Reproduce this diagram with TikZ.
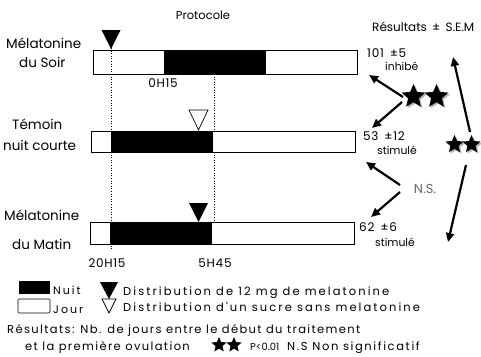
\documentclass[tikz,border=0pt]{standalone}
\usepackage{fontspec}
\setmainfont{Poppins}
\newfontfamily\legfontA[LetterSpace=18]{Poppins}
\newfontfamily\legfontB[LetterSpace=12]{Poppins}
\newfontfamily\legfontC[LetterSpace=18]{Poppins}
\newfontfamily\legfontF[LetterSpace=14]{Poppins}
\newfontfamily\valfont[LetterSpace=6]{Poppins}
\usetikzlibrary{arrows.meta,shapes.geometric}
\begin{document}
\begin{tikzpicture}[x=1pt,y=-1pt,
  lab/.style={font=\fontsize{13.5}{14}\selectfont, anchor=base west, inner sep=0},
  small/.style={font=\valfont\fontsize{12}{12}\selectfont, anchor=base west, inner sep=0},
  tiny/.style={font=\fontsize{10.8}{11}\selectfont, anchor=base west, inner sep=0},
  legA/.style={font=\legfontA\fontsize{11.5}{12}\selectfont, anchor=base west, inner sep=0},
  legB/.style={font=\legfontB\fontsize{11.5}{12}\selectfont, anchor=base west, inner sep=0},
  legC/.style={font=\legfontC\fontsize{11}{12}\selectfont, anchor=base west, inner sep=0},
  legE/.style={font=\fontsize{10}{10}\selectfont, anchor=base west, inner sep=0},
  legF/.style={font=\legfontF\fontsize{11.5}{12}\selectfont, anchor=base west, inner sep=0},
  barbox/.style={draw=black, line width=0.6pt, fill=white},
  nightbox/.style={fill=black},
  dots/.style={dotted, line width=0.6pt},
  thickarrow/.style={line width=2.2pt, -{Triangle[length=9pt,width=8pt]}},
  starS/.style={star, star points=5, star point ratio=2.2, fill=black, minimum size=25pt, inner sep=0},
  starM/.style={starS, minimum size=19pt},
  starL/.style={starS, minimum size=16pt},
  shadowstar/.style={fill=gray!60}
]
\useasboundingbox (0,0) rectangle (481,356);

% titles
\node[font=\fontsize{11.5}{12}\selectfont, inner sep=0] (prot) at (203,15) {Protocole};
\node[small, anchor=west, font=\fontsize{12}{12}\selectfont] (res) at (372,27) {Résultats \,±\, S.E.M};

% dotted guide lines
\coordinate (d1t) at (111,48);
\coordinate (d1b) at (111,249);
\coordinate (d2t) at (214,74);
\coordinate (d2b) at (214,222);
\draw[dots] (d1t) -- (d1b);
\draw[dots] (d2t) -- (d2b);

% bar 1: Melatonine du soir
\fill[nightbox] (164,50) rectangle (266,74);
\draw[line width=0.6pt] (93,50) rectangle (357,74);
\fill (101.5,30) -- (120.5,30) -- (111,49) -- cycle;

% bar 2: Temoin nuit courte
\draw[barbox] (91,131) rectangle (355,152);
\fill[nightbox] (111,131) rectangle (213,152);
\draw[line width=0.7pt] (189,110) -- (208,110) -- (198.5,130) -- cycle;

% bar 3: Melatonine du matin
\draw[barbox] (90,222) rectangle (354,244);
\fill[nightbox] (110,222) rectangle (212,244);
\fill (189,203) -- (208,203) -- (198.5,222) -- cycle;

% left labels
\node[lab] (l1a) at (6,48) {Mélatonine};
\node[lab] (l1b) at (19,67) {du Soir};
\node[lab] (l2a) at (12,129) {Témoin};
\node[lab] (l2b) at (3,150) {nuit courte};
\node[lab] (l3a) at (4,220) {Mélatonine};
\node[lab] (l3b) at (12,249) {du Matin};

% times
\node[small, anchor=center] (t0) at (163,83) {0H15};
\node[small, anchor=center] (t1) at (107,263) {20H15};
\node[small, anchor=center] (t2) at (215,263) {5H45};

% results
\node[small] (r1) at (367,57) {101 \,±5};
\node[tiny] (r1s) at (385,70) {inhibé};
\node[small] (r2) at (363,140) {53 \,±12};
\node[tiny] (r2s) at (377,154) {stimulé};
\node[small] (r3) at (359,231) {62 \,±6};
\node[tiny] (r3s) at (375,246) {stimulé};

% stars
\node[starS, shadowstar] at (415,98) {};
\node[starS] (sa1) at (413.5,96.5) {};
\node[starS, shadowstar] at (438,98) {};
\node[starS] (sa2) at (436.5,96.5) {};
\node[starM, shadowstar] at (456,146) {};
\node[starM] (sb1) at (454.5,144.5) {};
\node[starM, shadowstar] at (473,146) {};
\node[starM] (sb2) at (471.5,144.5) {};

\node[font=\fontsize{13}{13}\selectfont, text=black!60, inner sep=0] (ns) at (425,189) {N.S.};

% arrows
\coordinate (a1t) at (403,97);  \coordinate (a1h) at (369,75);
\coordinate (a2t) at (402,102); \coordinate (a2h) at (372,128);
\coordinate (a3t) at (400,185); \coordinate (a3h) at (366,162);
\coordinate (a4t) at (400,192); \coordinate (a4h) at (371,217);
\coordinate (a5t) at (470,132); \coordinate (a5h) at (453,57);
\coordinate (a6t) at (466,165); \coordinate (a6h) at (448,242);
\draw[thickarrow] (a1t) -- (a1h);
\draw[thickarrow] (a2t) -- (a2h);
\draw[thickarrow] (a3t) -- (a3h);
\draw[thickarrow] (a4t) -- (a4h);
\draw[thickarrow] (a5t) -- (a5h);
\draw[thickarrow] (a6t) -- (a6h);

% legend
\fill (19,281) rectangle (50,294);
\draw[line width=0.6pt, rounded corners=1pt] (18,299) rectangle (50,313);
\node[legC] (nuit) at (53,294) {Nuit};
\node[legC] (jour) at (53,313) {Jour};
\fill (100,282) -- (118,282) -- (109,299) -- cycle;
\draw[line width=0.7pt] (102,299) -- (116,299) -- (109,313) -- cycle;
\node[legA] (dist1) at (123,295) {Distribution de 12 mg de melatonine};
\node[legA] (dist2) at (123,311) {Distribution d'un sucre sans melatonine};
\node[legB] (resl) at (7,333) {Résultats: Nb. de jours entre le début du traitement};
\node[legB] (ovul) at (25,350) {et la première ovulation};
\node[starL] (lsa) at (219,345) {};
\node[starL] (lsb) at (234,345) {};
\node[legE] (pval) at (250,350) {P<0.01};
\node[legF] (nsl) at (287,350) {N.S Non significatif};
\end{tikzpicture}
\end{document}
